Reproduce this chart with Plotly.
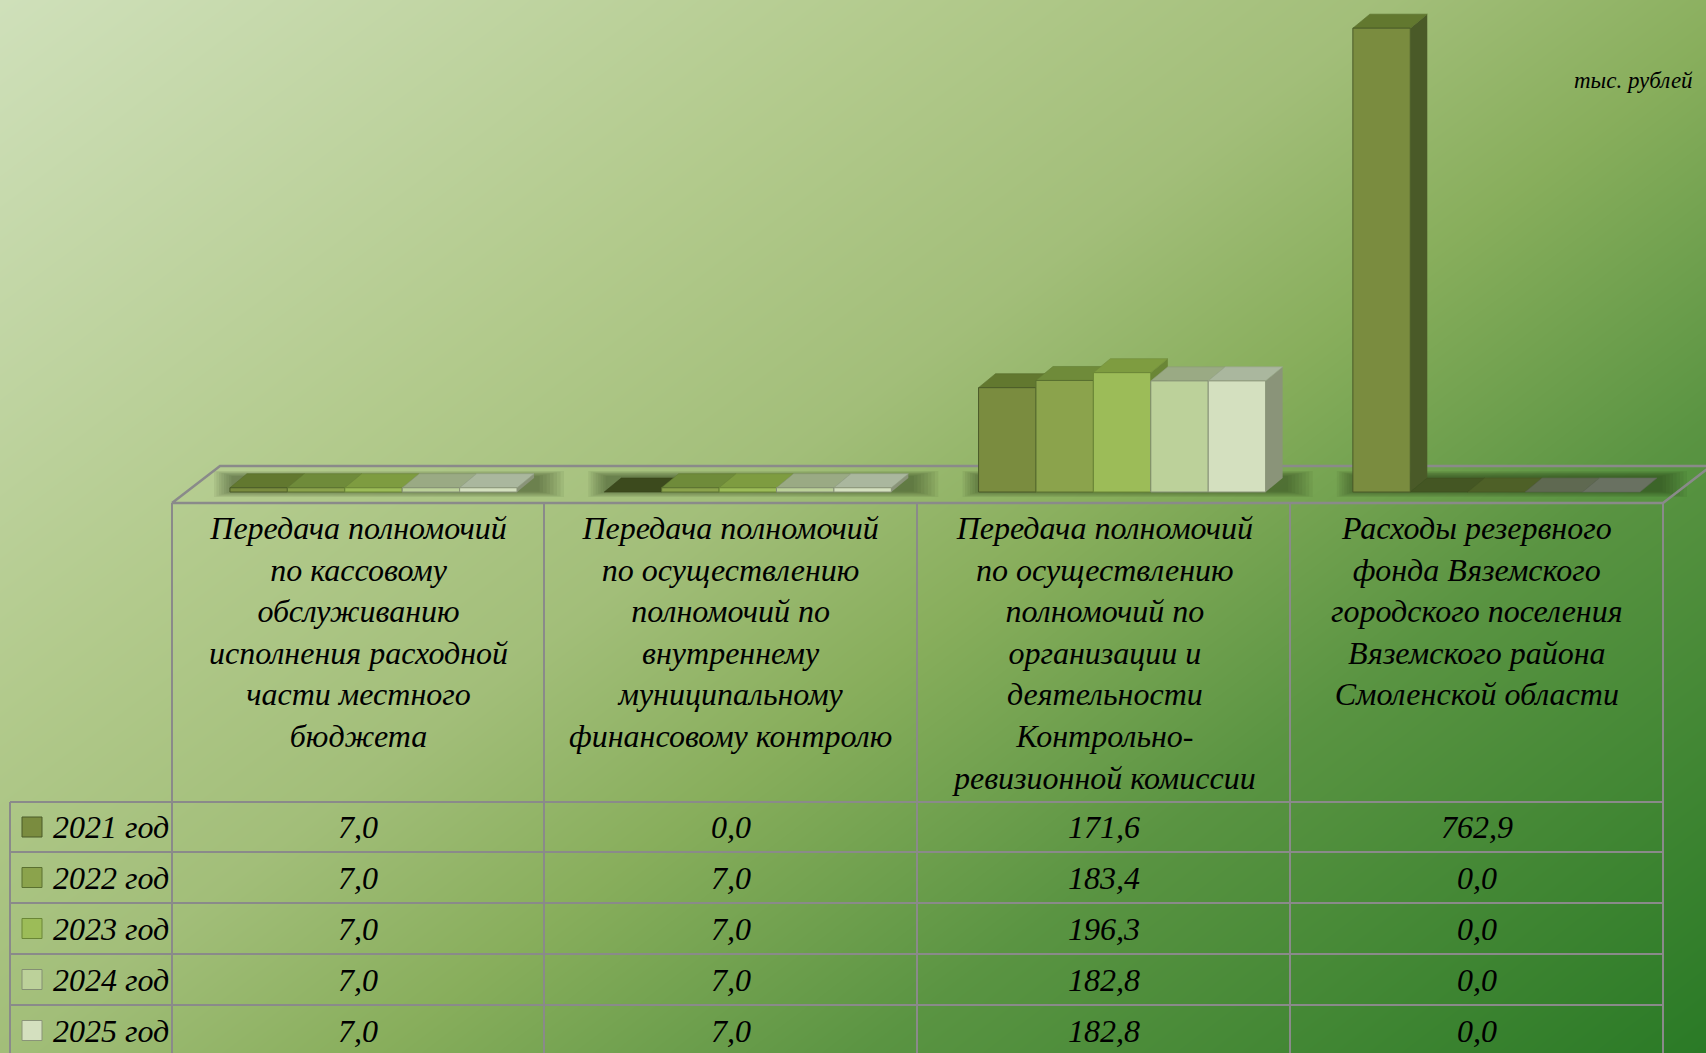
import numpy as np
import plotly.graph_objects as go

# ---- data -------------------------------------------------------------
categories = [
    "Передача полномочий<br>по кассовому<br>обслуживанию<br>исполнения расходной<br>части местного<br>бюджета",
    "Передача полномочий<br>по осуществлению<br>полномочий по<br>внутреннему<br>муниципальному<br>финансовому контролю",
    "Передача полномочий<br>по осуществлению<br>полномочий по<br>организации и<br>деятельности<br>Контрольно-<br>ревизионной комиссии",
    "Расходы резервного<br>фонда Вяземского<br>городского поселения<br>Вяземского района<br>Смоленской области",
]
years = ["2021 год", "2022 год", "2023 год", "2024 год", "2025 год"]
values_2021 = [7.0, 0.0, 171.6, 762.9]
values_2022 = [7.0, 7.0, 183.4, 0.0]
values_2023 = [7.0, 7.0, 196.3, 0.0]
values_2024 = [7.0, 7.0, 182.8, 0.0]
values_2025 = [7.0, 7.0, 182.8, 0.0]
unit_label = "тыс. рублей"

series = [values_2021, values_2022, values_2023, values_2024, values_2025]

# ---- styling ----------------------------------------------------------
W, H = 1706, 1053
FONT = "Liberation Serif"
front_colors = ["#7A8C3F", "#8BA34C", "#9CBC58", "#BCD19A", "#D4E0BF"]
top_colors = ["#62782F", "#6F8B3A", "#7E9C40", "#9AAA84", "#AAB79E"]
side_colors = ["#4A5A28", "#5A7030", "#6A8636", "#848F74", "#8A9479"]
grid_color = "#8A8A8A"

# pixel <-> data mapping of the chart axes
X0, SX = 373.5, 374.3      # pixel of first category centre, pixels per category
Y0, SY = 492.0, 0.608      # pixel of zero level, pixels per unit
BARGAP = 0.233
NSER = len(series)
BW = (1 - BARGAP) / NSER
DX = 17 / SX               # depth offset of the 3-D boxes
DY = 14 / SY


def xd(px):
    return (px - X0) / SX


def yd(py):
    return (Y0 - py) / SY


def xp(px):
    return px / W


def yp(py):
    return 1 - py / H


def darker(hex_color, f):
    h = hex_color.lstrip("#")
    r, g, b = (int(h[k:k + 2], 16) for k in (0, 2, 4))
    return "#%02X%02X%02X" % (int(r * f), int(g * f), int(b * f))


fig = go.Figure()

# ---- background gradient ---------------------------------------------
gx_px = np.linspace(-10, W + 10, 40)
gy_px = np.linspace(-10, H + 10, 40)
U, V = np.meshgrid(gx_px / W, gy_px / H)
Z = 0.55 * U + 0.45 * V
fig.add_trace(go.Heatmap(
    x=xd(gx_px), y=yd(gy_px), z=Z, zmin=0, zmax=1, zsmooth="best",
    colorscale=[[0.0, "#CFE0BA"], [0.3, "#B2CA8C"], [0.45, "#A2BE79"],
                [0.57, "#88AE5C"], [0.73, "#5A9442"], [1.0, "#2A7A26"]],
    showscale=False, hoverinfo="skip"))

# ---- soft shadows on the floor under each group ------------------------
for i in range(len(categories)):
    left = i - (1 - BARGAP) / 2
    right = left + (1 - BARGAP) + DX
    for k in range(8):
        l = left - (16 - 2.5 * k) / SX
        r = right + (30 - 3.5 * k) / SX
        b = yd(497 - k * 0.8)
        t = yd(471 + k * 0.7)
        fig.add_trace(go.Scatter(
            x=[l, r, r, l, l], y=[b, b, t, t, b], mode="lines", fill="toself",
            fillcolor="rgba(30,50,12,0.065)", line=dict(width=0),
            hoverinfo="skip", showlegend=False))

# ---- floor outline ----------------------------------------------------
floor_x = [172, 1663, 1711, 220, 172]
floor_y = [503, 503, 466, 466, 503]
fig.add_trace(go.Scatter(
    x=[xd(v) for v in floor_x], y=[yd(v) for v in floor_y], mode="lines",
    line=dict(color=grid_color, width=2.5), hoverinfo="skip", showlegend=False))

# ---- top and side faces of the boxes (painter's order) -----------------
for i in range(len(categories)):
    for j, vals in enumerate(series):
        v = vals[i]
        x0 = i - (1 - BARGAP) / 2 + j * BW
        x1 = x0 + BW
        if v > 0:
            fig.add_trace(go.Scatter(
                x=[x1, x1, x1 + DX, x1 + DX, x1], y=[0, v, v + DY, DY, 0],
                mode="lines", fill="toself", fillcolor=side_colors[j],
                line=dict(width=0), hoverinfo="skip", showlegend=False))
            tc = top_colors[j]
        else:
            tc = darker(top_colors[j], 0.62)
        fig.add_trace(go.Scatter(
            x=[x0, x1, x1 + DX, x0 + DX, x0], y=[v, v, v + DY, v + DY, v],
            mode="lines", fill="toself", fillcolor=tc,
            line=dict(color=darker(tc, 0.9), width=0.6),
            hoverinfo="skip", showlegend=False))

# ---- front faces ------------------------------------------------------
for j, vals in enumerate(series):
    fig.add_trace(go.Bar(
        x=list(range(len(categories))), y=vals, name=years[j],
        xaxis="x2", yaxis="y2",
        marker=dict(color=front_colors[j],
                    line=dict(color=side_colors[j],
                              width=[0 if v == 0 else 1 for v in vals])),
        hoverinfo="skip", showlegend=False))

# ---- data table -------------------------------------------------------
col_edges = [172, 544, 917, 1290, 1663]
row_edges = [802, 852, 903, 954, 1005, 1056]
shapes = []
for xe in col_edges:
    shapes.append(dict(type="line", xref="paper", yref="paper",
                       x0=xp(xe), x1=xp(xe), y0=yp(503), y1=yp(H + 5),
                       line=dict(color=grid_color, width=2)))
shapes.append(dict(type="line", xref="paper", yref="paper",
                   x0=xp(10), x1=xp(10), y0=yp(row_edges[0]), y1=yp(H + 5),
                   line=dict(color=grid_color, width=2)))
for ye in row_edges[:-1]:
    shapes.append(dict(type="line", xref="paper", yref="paper",
                       x0=xp(10), x1=xp(col_edges[-1]), y0=yp(ye), y1=yp(ye),
                       line=dict(color=grid_color, width=2)))

annotations = []
for i, name in enumerate(categories):
    cx = (col_edges[i] + col_edges[i + 1]) / 2
    annotations.append(dict(
        text=name, x=xp(cx), y=yp(508), xref="paper", yref="paper",
        xanchor="center", yanchor="top", showarrow=False, align="center",
        font=dict(family=FONT, size=32, color="black", style="italic")))

for j, vals in enumerate(series):
    cy = (row_edges[j] + row_edges[j + 1]) / 2
    shapes.append(dict(type="rect", xref="paper", yref="paper",
                       x0=xp(22), x1=xp(42), y0=yp(cy - 10), y1=yp(cy + 10),
                       fillcolor=front_colors[j],
                       line=dict(color=side_colors[j], width=1)))
    annotations.append(dict(
        text=years[j], x=xp(51), y=yp(cy), xref="paper", yref="paper",
        xanchor="left", yanchor="middle", showarrow=False,
        font=dict(family=FONT, size=32, color="black", style="italic")))
    for i, v in enumerate(vals):
        cx = (col_edges[i] + col_edges[i + 1]) / 2
        annotations.append(dict(
            text=f"{v:.1f}".replace(".", ","), x=xp(cx), y=yp(cy),
            xref="paper", yref="paper", xanchor="center", yanchor="middle",
            showarrow=False,
            font=dict(family=FONT, size=32, color="black", style="italic")))

annotations.append(dict(
    text=unit_label, x=xp(1695), y=yp(80), xref="paper", yref="paper",
    xanchor="right", yanchor="middle", showarrow=False,
    font=dict(family=FONT, size=23, color="black", style="italic")))

axis_common = dict(visible=False, fixedrange=True, showgrid=False, zeroline=False)
fig.update_layout(
    width=W, height=H, margin=dict(l=0, r=0, t=0, b=0),
    paper_bgcolor="#A8C47E", plot_bgcolor="rgba(0,0,0,0)",
    barmode="group", bargap=BARGAP, bargroupgap=0,
    xaxis=dict(range=[xd(0), xd(W)], domain=[0, 1], **axis_common),
    yaxis=dict(range=[yd(H), yd(0)], domain=[0, 1], **axis_common),
    xaxis2=dict(range=[xd(0), xd(W)], domain=[0, 1], anchor="y2", **axis_common),
    yaxis2=dict(range=[yd(H), yd(0)], domain=[0, 1], anchor="x2", **axis_common),
    shapes=shapes, annotations=annotations, showlegend=False,
)

fig.write_html("out.html")
